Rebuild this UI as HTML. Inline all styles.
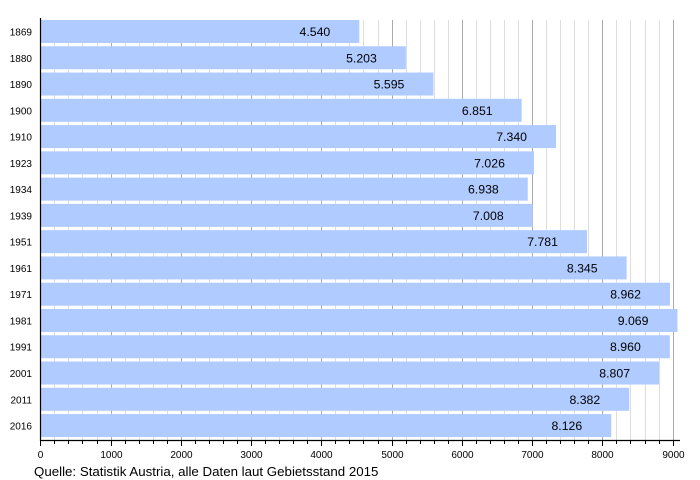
<!DOCTYPE html>
<html><head><meta charset="utf-8"><style>
html,body{margin:0;padding:0;background:#fff;}
svg{display:block;font-family:"Liberation Sans",sans-serif;}
</style></head><body>
<svg width="700" height="480" viewBox="0 0 700 480" xmlns="http://www.w3.org/2000/svg">
<g id="grid"></g>
<g id="bars"></g>
<line x1="40.5" y1="18" x2="40.5" y2="441" stroke="#000" stroke-width="1.2"/>
<line x1="40" y1="440.5" x2="680" y2="440.5" stroke="#000" stroke-width="1.2"/>
<g id="ticks"></g>
<text x="34" y="476" font-size="13.3" fill="#000">Quelle: Statistik Austria, alle Daten laut Gebietsstand 2015</text>
<script>
var ns="http://www.w3.org/2000/svg";
function el(p,t,a,txt){var e=document.createElementNS(ns,t);for(var k in a)e.setAttribute(k,a[k]);if(txt)e.textContent=txt;p.appendChild(e);return e;}
var x0=40.3,s=0.07026;
var g=document.getElementById('grid'),b=document.getElementById('bars'),tk=document.getElementById('ticks');
for(var v=200;v<=9000;v+=200){var x=Math.round(x0+v*s)+0.5;var maj=v%1000==0;
el(g,'line',{x1:x,y1:20,x2:x,y2:440,stroke:maj?'#aaa':'#ddd','stroke-width':1});}
for(var v=0;v<=9000;v+=200){var x=Math.round(x0+v*s)+0.5;var maj=v%1000==0;
el(tk,'line',{x1:x,y1:440,x2:x,y2:maj?446:444,stroke:'#000','stroke-width':1});
if(maj)el(tk,'text',{x:x,y:458,'font-size':'10','text-anchor':'middle'},String(v));}
var d=[["1869",4540],["1880",5203],["1890",5595],["1900",6851],["1910",7340],["1923",7026],["1934",6938],["1939",7008],["1951",7781],["1961",8345],["1971",8962],["1981",9069],["1991",8960],["2001",8807],["2011",8382],["2016",8126]];
d.forEach(function(r,i){var y=20+i*26.27;var w=r[1]*s;
el(b,'rect',{x:41,y:y,width:x0+w-41,height:23,fill:'#b0cbff'});
el(b,'text',{x:32,y:y+15.5,'font-size':'10','text-anchor':'end'},r[0]);
el(b,'text',{x:x0+w-29,y:y+16,'font-size':'12.3','text-anchor':'end'},(r[1]/1000).toFixed(3));});
</script>
</svg>
</body></html>
